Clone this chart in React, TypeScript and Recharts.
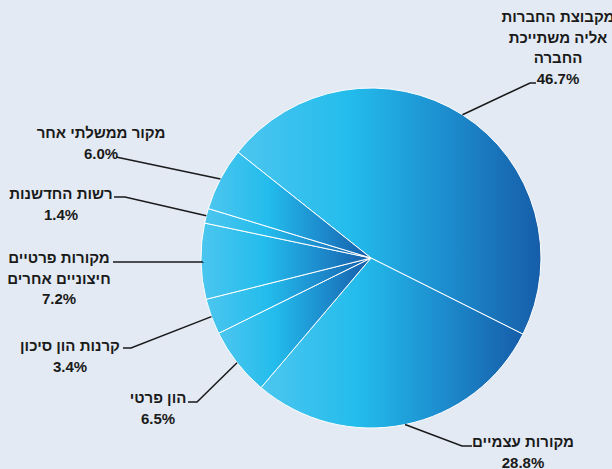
import { PieChart, Pie, Cell } from "recharts";

// slices clockwise from the top-left edge
const categories: string[][] = [
  ["מקבוצת החברות", "אליה משתייכת", "החברה"],
  ["מקורות עצמיים"],
  ["הון פרטי"],
  ["קרנות הון סיכון"],
  ["מקורות פרטיים", "חיצוניים אחרים"],
  ["רשות החדשנות"],
  ["מקור ממשלתי אחר"],
];
const shares = [46.7, 28.8, 6.5, 3.4, 7.2, 1.4, 6.0];

// where each label sits (text centre / first baseline) and the elbow of its leader line
const labelLayout = [
  { x: 558, y: 22, ex: 530, ey: 83, hx: 536 },
  { x: 523, y: 447, ex: 462, ey: 446, hx: 472 },
  { x: 158, y: 403, ex: 197, ey: 402, hx: 188 },
  { x: 70, y: 351, ex: 131, ey: 348, hx: 123 },
  { x: 59, y: 263, ex: 202, ey: 262, hx: 113 },
  { x: 61, y: 199, ex: 125, ey: 197, hx: 114 },
  { x: 101, y: 138, ex: 116, ey: 157, hx: 116 },
];

const data = categories.map((lines, i) => ({ name: lines.join(" "), value: shares[i] }));

const RAD = Math.PI / 180;
const LINE_H = 20.5;

function renderLabel(props: any) {
  const { cx, cy, midAngle, outerRadius, index } = props;
  const l = labelLayout[index];
  const sx = cx + outerRadius * Math.cos(-midAngle * RAD);
  const sy = cy + outerRadius * Math.sin(-midAngle * RAD);
  const lines = [...categories[index], `${shares[index].toFixed(1)}%`];
  return (
    <g key={`lbl-${index}`}>
      <polyline
        points={`${sx},${sy} ${l.ex},${l.ey} ${l.hx},${l.ey}`}
        fill="none"
        stroke="#1a1a1a"
        strokeWidth={1.5}
      />
      <text
        x={l.x}
        y={l.y}
        textAnchor="middle"
        fill="#1a1a1a"
        fontSize={15}
        fontWeight="bold"
        fontFamily="'Liberation Sans', Arial, sans-serif"
      >
        {lines.map((t, k) => (
          <tspan key={k} x={l.x} y={l.y + k * LINE_H}>
            {t}
          </tspan>
        ))}
      </text>
    </g>
  );
}

export default function App() {
  return (
    <div
      style={{
        position: "absolute",
        left: 0,
        top: 0,
        width: 612,
        height: 469,
        background: "#e3eaf4",
        overflow: "hidden",
      }}
    >
      <PieChart width={612} height={469} margin={{ top: 0, right: 0, bottom: 0, left: 0 }}>
        <defs>
          <linearGradient id="sliceFill" x1="0" y1="0" x2="1" y2="0">
            <stop offset="0" stopColor="#4cc6ef" />
            <stop offset="0.37" stopColor="#23bcec" />
            <stop offset="0.68" stopColor="#1d8ecf" />
            <stop offset="1" stopColor="#165da8" />
          </linearGradient>
        </defs>
        <Pie
          data={data}
          dataKey="value"
          nameKey="name"
          cx={371}
          cy={258}
          outerRadius={170}
          startAngle={141.5}
          endAngle={-218.5}
          stroke="#ffffff"
          strokeWidth={1}
          label={renderLabel}
          labelLine={false}
          isAnimationActive={false}
        >
          {data.map((d, i) => (
            <Cell key={d.name} fill="url(#sliceFill)" />
          ))}
        </Pie>
      </PieChart>
    </div>
  );
}
